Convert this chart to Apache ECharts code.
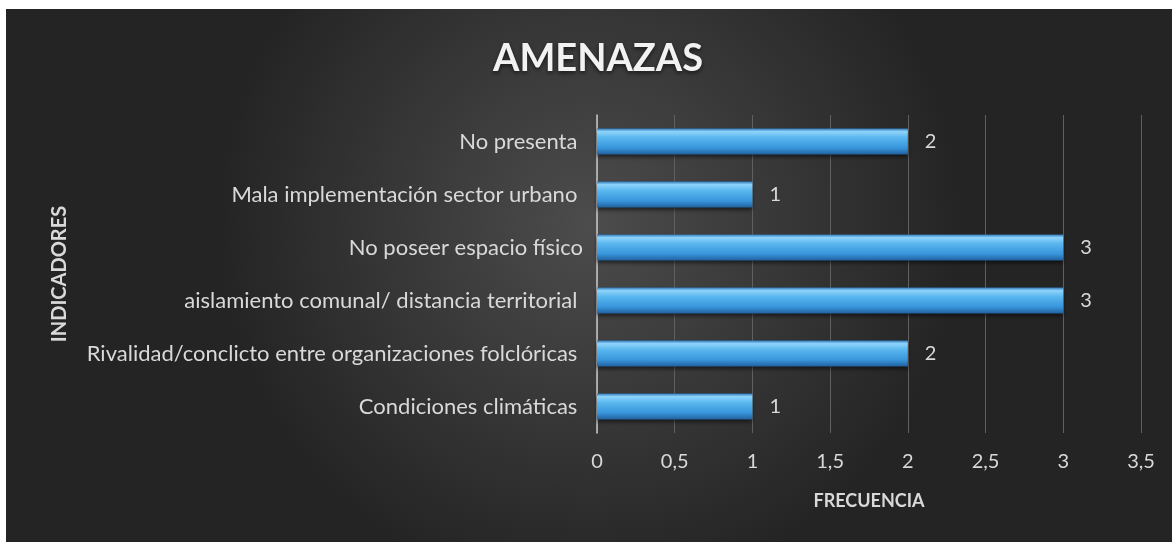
<!DOCTYPE html>
<html>
<head>
<meta charset="utf-8">
<script src="https://cdn.jsdelivr.net/npm/echarts@6/dist/echarts.min.js"></script>
<style>
  html, body { margin: 0; padding: 0; background: #fff; }
  #main { width: 1172px; height: 542px; }
</style>
</head>
<body>
<div id="main"></div>
<script>
// categories from bottom to top (ECharts category y axis)
var categories = [
  'Condiciones climáticas ',
  'Rivalidad/conclicto entre organizaciones folclóricas ',
  'aislamiento comunal/ distancia territorial ',
  'No poseer espacio físico',
  'Mala implementación sector urbano ',
  'No presenta '
];
var frecuencia = [1, 2, 3, 3, 1, 2];

var labelColor = '#d9d9d9';
var fontName = 'Lato';

var chart = echarts.init(document.getElementById('main'));
chart.setOption({
  backgroundColor: '#ffffff',
  title: {
    text: 'AMENAZAS',
    left: 488,
    top: 35,
    textStyle: {
      color: '#f2f2f2',
      fontFamily: fontName,
      fontWeight: 'bold',
      fontSize: 38,
      textShadowColor: 'rgba(0,0,0,0.6)',
      textShadowBlur: 4,
      textShadowOffsetY: 2
    }
  },
  graphic: [{
    type: 'rect',
    z: -10,
    silent: true,
    shape: { x: 6, y: 9, width: 1166, height: 533 },
    style: {
      fill: new echarts.graphic.RadialGradient(0.5, 0.4, 0.7, [
        { offset: 0, color: '#4c4c4c' },
        { offset: 1, color: '#242424' }
      ])
    }
  }],
  grid: { left: 597, right: 31, top: 115, bottom: 109 },
  xAxis: {
    type: 'value',
    min: 0,
    max: 3.5,
    interval: 0.5,
    name: 'FRECUENCIA',
    nameLocation: 'middle',
    nameGap: 59,
    nameTextStyle: { color: labelColor, fontFamily: fontName, fontWeight: 'bold', fontSize: 18 },
    axisLine: { show: false },
    axisTick: { show: false },
    axisLabel: {
      color: labelColor,
      fontFamily: fontName,
      fontSize: 20,
      margin: 19,
      formatter: function (v) { return String(v).replace('.', ','); }
    },
    splitLine: { lineStyle: { color: '#606060', width: 1 } }
  },
  yAxis: {
    type: 'category',
    data: categories,
    name: 'INDICADORES',
    nameLocation: 'middle',
    nameGap: 527,
    nameRotate: 90,
    nameTextStyle: { color: labelColor, fontFamily: fontName, fontWeight: 'bold', fontSize: 20 },
    axisLine: { show: true, lineStyle: { color: '#c8c8c8', width: 1.5 } },
    axisTick: { show: false },
    axisLabel: { color: labelColor, fontFamily: fontName, fontSize: 22, margin: 14 },
    splitLine: { show: false }
  },
  series: [{
    type: 'bar',
    data: frecuencia,
    barWidth: 26,
    itemStyle: {
      color: new echarts.graphic.LinearGradient(0, 0, 0, 1, [
        { offset: 0, color: '#2f78b8' },
        { offset: 0.12, color: '#8fd4fb' },
        { offset: 0.35, color: '#5ab7ef' },
        { offset: 0.75, color: '#3895db' },
        { offset: 1, color: '#21609e' }
      ]),
      shadowColor: 'rgba(0,0,0,0.55)',
      shadowBlur: 4,
      shadowOffsetY: 2
    },
    label: {
      show: true,
      position: 'right',
      distance: 17,
      color: labelColor,
      fontFamily: fontName,
      fontSize: 20
    }
  }]
});
</script>
</body>
</html>
